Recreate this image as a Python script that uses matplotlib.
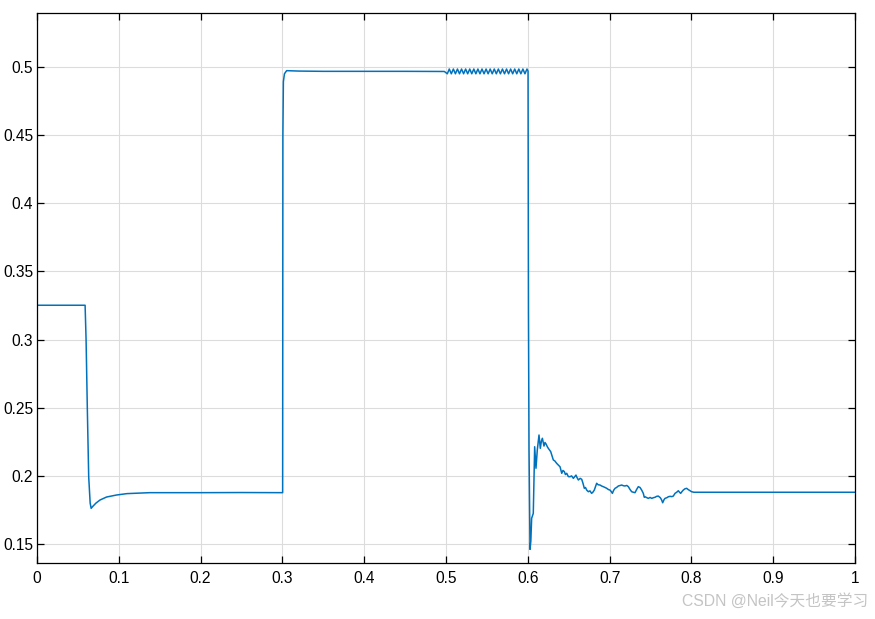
import matplotlib
matplotlib.use("Agg")
import matplotlib.pyplot as plt
import numpy as np

# ---- data ----
seg1_t = [0.0, 0.0588, 0.0600, 0.0615, 0.0632, 0.0650, 0.0662, 0.0680, 0.0720, 0.0770,
          0.0850, 0.0974, 0.1100, 0.1380, 0.2000, 0.2500, 0.3000]
seg1_y = [0.3252, 0.3252, 0.3000, 0.2500, 0.1994, 0.1800, 0.1762, 0.1775, 0.1800, 0.1823,
          0.1845, 0.1860, 0.1870, 0.1877, 0.1877, 0.1878, 0.1877]

seg2_t = [0.3003, 0.3006, 0.3012, 0.3025, 0.3052, 0.3200, 0.3500, 0.4000, 0.4500, 0.4980, 0.5016]
seg2_y = [0.1877, 0.4500, 0.4892, 0.4950, 0.4973, 0.4970, 0.4968, 0.4968, 0.4968, 0.4967, 0.4950]

osc_t = [0.5040, 0.5065, 0.5090, 0.5115, 0.5140, 0.5165, 0.5190, 0.5215, 0.5240, 0.5265,
         0.5290, 0.5315, 0.5340, 0.5365, 0.5390, 0.5415, 0.5440, 0.5465, 0.5490, 0.5515,
         0.5540, 0.5565, 0.5590, 0.5615, 0.5640, 0.5665, 0.5690, 0.5715, 0.5740, 0.5765,
         0.5790, 0.5815, 0.5840, 0.5865, 0.5890, 0.5915, 0.5940, 0.5965, 0.5990]
osc_y = [0.4985, 0.4950, 0.4985, 0.4950, 0.4985, 0.4950, 0.4985, 0.4950, 0.4985, 0.4950,
         0.4985, 0.4950, 0.4985, 0.4950, 0.4985, 0.4950, 0.4985, 0.4950, 0.4985, 0.4950,
         0.4985, 0.4950, 0.4985, 0.4950, 0.4985, 0.4950, 0.4985, 0.4950, 0.4985, 0.4950,
         0.4985, 0.4950, 0.4985, 0.4950, 0.4985, 0.4950, 0.4985, 0.4950, 0.4985]

seg3_t = [0.6003, 0.6008, 0.6015, 0.6027, 0.6037, 0.6047, 0.6067, 0.6084, 0.6100, 0.6116,
          0.6137, 0.6153, 0.6166, 0.6178, 0.6198, 0.6210, 0.6223, 0.6238, 0.6251, 0.6265,
          0.6280, 0.6295, 0.6312, 0.6330, 0.6353, 0.6372, 0.6394, 0.6415, 0.6430, 0.6447,
          0.6460, 0.6476, 0.6495, 0.6516, 0.6535, 0.6557, 0.6589, 0.6600, 0.6618, 0.6640,
          0.6659, 0.6675, 0.6691, 0.6705, 0.6720, 0.6740, 0.6760, 0.6780, 0.6795, 0.6813,
          0.6830, 0.6842, 0.6860, 0.6883, 0.6905, 0.6923, 0.6945, 0.6965, 0.6985, 0.7005,
          0.7020, 0.7034, 0.7050, 0.7067, 0.7085, 0.7107, 0.7128, 0.7148, 0.7168, 0.7188,
          0.7210, 0.7229, 0.7250, 0.7270, 0.7290, 0.7311, 0.7330, 0.7351, 0.7372, 0.7392,
          0.7412, 0.7424, 0.7433, 0.7455, 0.7473, 0.7495, 0.7515, 0.7535, 0.7555, 0.7575,
          0.7595, 0.7620, 0.7635, 0.7649, 0.7665, 0.7677, 0.7700, 0.7718, 0.7740, 0.7760,
          0.7779, 0.7800, 0.7820, 0.7840, 0.7855, 0.7869, 0.7885, 0.7901, 0.7920, 0.7942,
          0.7960, 0.7983, 0.8003, 0.8030, 0.8500, 0.9000, 0.9500, 1.0000]
seg3_y = [0.4970, 0.3200, 0.2200, 0.1461, 0.1520, 0.1689, 0.1725, 0.2214, 0.2056, 0.2190,
          0.2300, 0.2202, 0.2255, 0.2276, 0.2219, 0.2245, 0.2234, 0.2215, 0.2202, 0.2190,
          0.2178, 0.2150, 0.2117, 0.2110, 0.2092, 0.2080, 0.2067, 0.2019, 0.2040, 0.2031,
          0.2010, 0.2019, 0.1995, 0.1994, 0.2000, 0.1982, 0.2006, 0.1990, 0.1970, 0.1982,
          0.1975, 0.1945, 0.1909, 0.1915, 0.1896, 0.1884, 0.1890, 0.1872, 0.1880, 0.1896,
          0.1925, 0.1946, 0.1935, 0.1933, 0.1925, 0.1921, 0.1915, 0.1909, 0.1900, 0.1896,
          0.1885, 0.1872, 0.1895, 0.1909, 0.1915, 0.1926, 0.1930, 0.1933, 0.1928, 0.1926,
          0.1930, 0.1921, 0.1900, 0.1884, 0.1880, 0.1877, 0.1900, 0.1921, 0.1915, 0.1896,
          0.1872, 0.1843, 0.1847, 0.1840, 0.1835, 0.1842, 0.1835, 0.1840, 0.1843, 0.1850,
          0.1852, 0.1840, 0.1825, 0.1803, 0.1825, 0.1835, 0.1840, 0.1847, 0.1850, 0.1848,
          0.1852, 0.1872, 0.1880, 0.1891, 0.1880, 0.1872, 0.1885, 0.1896, 0.1905, 0.1909,
          0.1900, 0.1891, 0.1884, 0.1880, 0.1880, 0.1880, 0.1880, 0.1880]

x_ticks = [0, 0.1, 0.2, 0.3, 0.4, 0.5, 0.6, 0.7, 0.8, 0.9, 1]
x_labels = ["0", "0.1", "0.2", "0.3", "0.4", "0.5", "0.6", "0.7", "0.8", "0.9", "1"]
y_ticks = [0.15, 0.2, 0.25, 0.3, 0.35, 0.4, 0.45, 0.5]
y_labels = ["0.15", "0.2", "0.25", "0.3", "0.35", "0.4", "0.45", "0.5"]

t = seg1_t + seg2_t + osc_t + seg3_t
y = seg1_y + seg2_y + osc_y + seg3_y

plt.rcParams['font.family'] = ['Liberation Sans', 'Noto Sans CJK SC', 'DejaVu Sans']

fig = plt.figure(figsize=(8.75, 6.19), dpi=100)
ax = fig.add_axes([37/875, 1 - 563/619, (855-37)/875, (563-13)/619])

ax.plot(t, y, color='#0072BD', lw=1.1)

ax.set_xlim(0, 1)
ax.set_ylim(0.1361, 0.5396)
ax.set_xticks(x_ticks)
ax.set_xticklabels(x_labels)
ax.set_yticks(y_ticks)
ax.set_yticklabels(y_labels)

ax.grid(True, color='#dcdcdc', lw=0.8)
ax.set_axisbelow(True)
ax.tick_params(direction='in', length=5, width=0.9, top=True, right=True,
               labelsize=11.2, colors='black')
ax.tick_params(axis='y', pad=2.8)
ax.tick_params(axis='x', pad=6)
for s in ax.spines.values():
    s.set_linewidth(0.9)
    s.set_color('black')

fig.text(868/875, 1 - 601/619, "CSDN @Neil今天也要学习", ha='right', va='center',
         fontsize=11.3, color='#c4c4c4')

fig.savefig("out.png", dpi=100)
